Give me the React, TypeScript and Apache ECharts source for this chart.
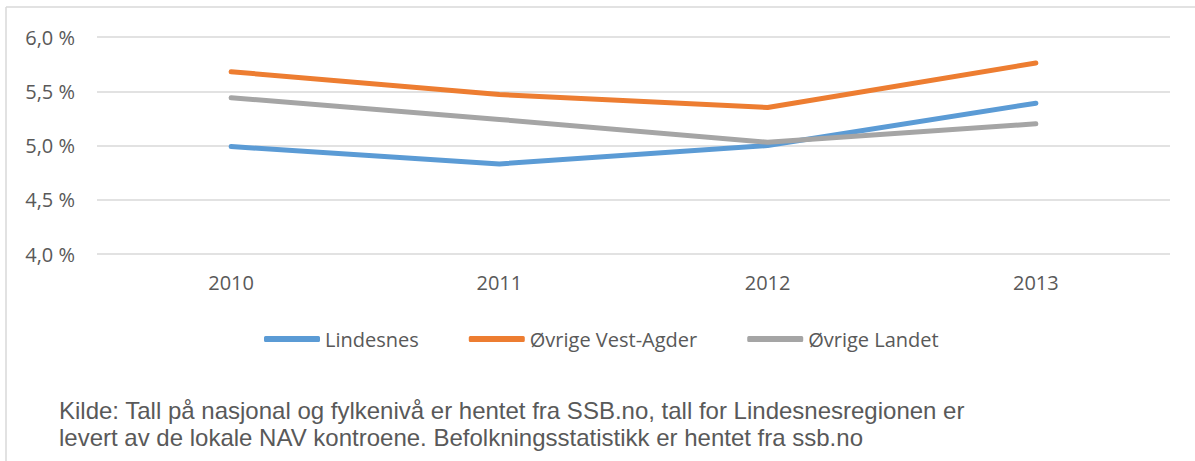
import React, { useEffect, useRef } from "react";
import * as echarts from "echarts";

const categories = ["2010", "2011", "2012", "2013"];
const lindesnes = [4.99, 4.83, 5.0, 5.39];
const vestAgder = [5.68, 5.47, 5.35, 5.76];
const landet = [5.44, 5.24, 5.03, 5.2];
const seriesNames = ["Lindesnes", "Øvrige Vest-Agder", "Øvrige Landet"];
const seriesColors = ["#5B9BD5", "#ED7D31", "#A5A5A5"];
const footnote1 =
  "Kilde: Tall på nasjonal og fylkenivå er hentet fra SSB.no, tall for Lindesnesregionen er";
const footnote2 =
  "levert av de lokale NAV kontroene. Befolkningsstatistikk er hentet fra ssb.no";

const FONT = "'Open Sans', 'Noto Sans', sans-serif";
const NOTE_FONT = "'Liberation Sans', Arial, sans-serif";
const TEXT = "#595959";

export default function App() {
  const ref = useRef<HTMLDivElement>(null);
  useEffect(() => {
    document.body.style.margin = "0";
    const chart = echarts.init(ref.current!, null, { renderer: "svg" });
    const data = [lindesnes, vestAgder, landet];
    chart.setOption({
      animation: false,
      backgroundColor: "#ffffff",
      textStyle: { fontFamily: FONT },
      grid: { left: 97, right: 25, top: 37, bottom: 207 },
      legend: {
        top: 324,
        left: 259,
        itemGap: 50,
        itemWidth: 56,
        itemHeight: 6,
        icon: "roundRect",
        textStyle: { color: TEXT, fontSize: 20, fontFamily: FONT },
        data: seriesNames,
      },
      xAxis: {
        type: "category",
        data: categories,
        axisLine: { show: false },
        axisTick: { show: false },
        axisLabel: { color: TEXT, fontSize: 20, margin: 18, fontFamily: FONT },
      },
      yAxis: {
        type: "value",
        min: 4,
        max: 6,
        interval: 0.5,
        axisLine: { show: false },
        axisTick: { show: false },
        splitLine: { lineStyle: { color: "#D9D9D9", width: 1.5 } },
        axisLabel: {
          color: TEXT,
          fontSize: 20,
          margin: 22,
          fontFamily: FONT,
          formatter: (v: number) => v.toFixed(1).replace(".", ",") + " %",
        },
      },
      series: seriesNames.map((name, i) => ({
        name,
        type: "line",
        data: data[i],
        symbol: "none",
        color: seriesColors[i],
        itemStyle: { color: seriesColors[i] },
        lineStyle: { color: seriesColors[i], width: 5, cap: "round", join: "round" },
      })),
      graphic: [
        {
          type: "line",
          shape: { x1: 6, y1: 7, x2: 1195, y2: 7 },
          style: { stroke: "#D9D9D9", lineWidth: 1.5 },
        },
        {
          type: "line",
          shape: { x1: 6, y1: 7, x2: 6, y2: 461 },
          style: { stroke: "#D9D9D9", lineWidth: 1.5 },
        },
        {
          type: "text",
          left: 59,
          top: 397,
          style: { text: footnote1, fill: TEXT, font: `24px ${NOTE_FONT}`, lineHeight: 26 },
        },
        {
          type: "text",
          left: 59,
          top: 424,
          style: { text: footnote2, fill: TEXT, font: `24px ${NOTE_FONT}`, lineHeight: 26 },
        },
      ],
    });
    return () => chart.dispose();
  }, []);
  return <div ref={ref} style={{ width: 1195, height: 461 }} />;
}
